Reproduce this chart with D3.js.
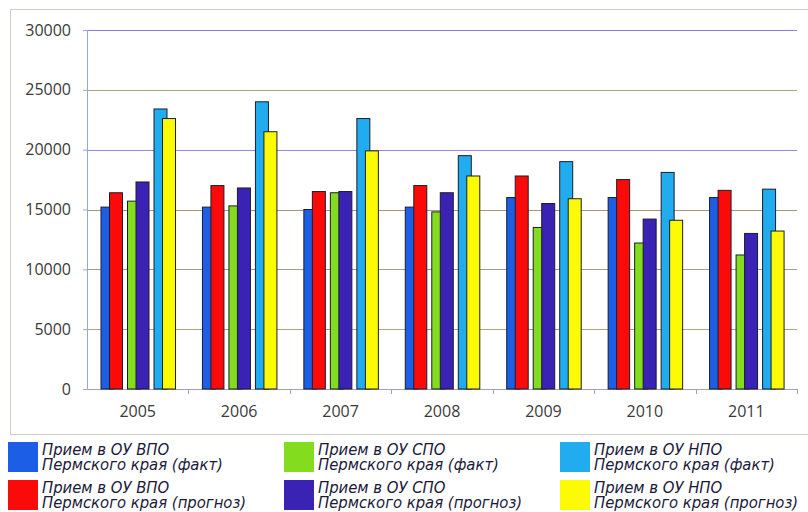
<!DOCTYPE html>
<html>
<head>
<meta charset="utf-8">
<script src="https://cdn.jsdelivr.net/npm/d3@7"></script>
<style>
  html, body { margin: 0; padding: 0; background: #fff; }
  svg { display: block; }
</style>
</head>
<body>
<svg id="chart" width="808" height="512"></svg>
<script>
// Admissions to educational institutions of Perm Krai, 2005–2011
const years = ["2005", "2006", "2007", "2008", "2009", "2010", "2011"];

const vpoFact     = [15200, 15200, 15000, 15200, 16000, 16000, 16000];
const vpoForecast = [16400, 17000, 16500, 17000, 17800, 17500, 16600];
const spoFact     = [15700, 15300, 16400, 14800, 13500, 12200, 11200];
const spoForecast = [17300, 16800, 16500, 16400, 15500, 14200, 13000];
const npoFact     = [23400, 24000, 22600, 19500, 19000, 18100, 16700];
const npoForecast = [22600, 21500, 19900, 17800, 15900, 14100, 13200];

const yTicks = [0, 5000, 10000, 15000, 20000, 25000, 30000];

const seriesNames = [
  ["Прием в ОУ ВПО", "Пермского края (факт)"],
  ["Прием в ОУ ВПО", "Пермского края (прогноз)"],
  ["Прием в ОУ СПО", "Пермского края (факт)"],
  ["Прием в ОУ СПО", "Пермского края (прогноз)"],
  ["Прием в ОУ НПО", "Пермского края (факт)"],
  ["Прием в ОУ НПО", "Пермского края (прогноз)"]
];

const colors = ["#1c5fe6", "#fb0a0a", "#84dc1e", "#3a22b4", "#22acf0", "#fdfa06"];

// series grouped in (fact, forecast) pairs per institution type
const pairs = [
  [vpoFact, vpoForecast],
  [spoFact, spoForecast],
  [npoFact, npoForecast]
];

const svg = d3.select("#chart");

// chart frame
svg.append("rect")
  .attr("x", 10.5).attr("y", 9.5)
  .attr("width", 820).attr("height", 425)
  .attr("fill", "none")
  .attr("stroke", "#cfcdc8")
  .attr("stroke-width", 1);

const plot = { left: 87, right: 797, top: 30, bottom: 389 };

const x = d3.scaleBand()
  .domain(years)
  .range([plot.left, plot.right])
  .paddingInner(0)
  .paddingOuter(0);

const y = d3.scaleLinear()
  .domain([0, 30000])
  .range([plot.bottom, plot.top]);

// horizontal gridlines
const gridColors = ["#a09a8a", "#b3a27a", "#a89a8c", "#a8967f", "#8c8ce0", "#a9a77a", "#8383e6"];
svg.append("g")
  .selectAll("line")
  .data(yTicks.filter(d => d > 0))
  .join("line")
  .attr("x1", plot.left)
  .attr("x2", plot.right)
  .attr("y1", d => Math.round(y(d)) + 0.5)
  .attr("y2", d => Math.round(y(d)) + 0.5)
  .attr("stroke", (d, i) => gridColors[i + 1])
  .attr("stroke-width", 1);

const axisFont = "'Open Sans', 'DejaVu Sans', sans-serif";

// y axis
const yAxis = svg.append("g")
  .attr("transform", `translate(${plot.left},0)`)
  .call(d3.axisLeft(y).tickValues(yTicks).tickFormat(d3.format("d")).tickSize(4).tickPadding(12));
yAxis.select(".domain").attr("stroke", "#9aa6d8");
yAxis.selectAll(".tick line").attr("stroke", "#9aa6d8");
yAxis.selectAll(".tick text")
  .attr("fill", "#3a3a3a")
  .style("font-family", axisFont)
  .style("font-size", "16px");

// x axis
const xAxis = svg.append("g")
  .attr("transform", `translate(0,${plot.bottom})`)
  .call(d3.axisBottom(x).tickSize(0).tickPadding(17));
xAxis.select(".domain").attr("stroke", "#a0a0b8");
xAxis.selectAll(".tick text")
  .attr("fill", "#3a3a3a")
  .style("font-family", axisFont)
  .style("font-size", "16px");

// category separators on the x axis
svg.append("g")
  .selectAll("line")
  .data(years)
  .join("line")
  .attr("x1", (d, i) => Math.round(x(years[0]) + (i + 1) * x.bandwidth()) + 0.5)
  .attr("x2", (d, i) => Math.round(x(years[0]) + (i + 1) * x.bandwidth()) + 0.5)
  .attr("y1", plot.bottom)
  .attr("y2", plot.bottom + 5)
  .attr("stroke", "#a0a0b8");

// bars: each pair has the fact bar behind and the forecast bar shifted right, overlapping
const barW = 13;
const pairStep = 26.5;
const pairShift = 8.5;
const groupInset = 14;

const bars = svg.append("g");
pairs.forEach((pair, k) => {
  pair.forEach((values, j) => {
    const s = k * 2 + j;
    bars.append("g")
      .selectAll("rect")
      .data(values.map((v, i) => ({ year: years[i], value: v })))
      .join("rect")
      .attr("x", d => x(d.year) + groupInset + k * pairStep + j * pairShift)
      .attr("y", d => y(d.value))
      .attr("width", barW)
      .attr("height", d => y(0) - y(d.value))
      .attr("fill", colors[s])
      .attr("stroke", "#1d1d2a")
      .attr("stroke-width", 1);
  });
});

// legend: three columns, two rows
const legendCols = [8, 284, 560];
const legendRows = [442, 480];
const legendFont = "'Liberation Sans Narrow', 'DejaVu Sans Condensed', 'Open Sans', sans-serif";

const legend = svg.append("g");
seriesNames.forEach((name, s) => {
  const col = Math.floor(s / 2);
  const row = s % 2;
  const gx = legendCols[col];
  const gy = legendRows[row];
  legend.append("rect")
    .attr("x", gx).attr("y", gy)
    .attr("width", 30).attr("height", 30)
    .attr("fill", colors[s]);
  const t = legend.append("text")
    .attr("x", gx + 34)
    .attr("y", gy + 13)
    .attr("fill", "#1a1a3a")
    .style("font-family", legendFont)
    .style("font-style", "italic")
    .style("font-size", "16.5px");
  t.append("tspan").attr("x", gx + 34).attr("dy", 0).text(name[0]);
  t.append("tspan").attr("x", gx + 34).attr("dy", 14.5).text(name[1]);
});
</script>
</body>
</html>
